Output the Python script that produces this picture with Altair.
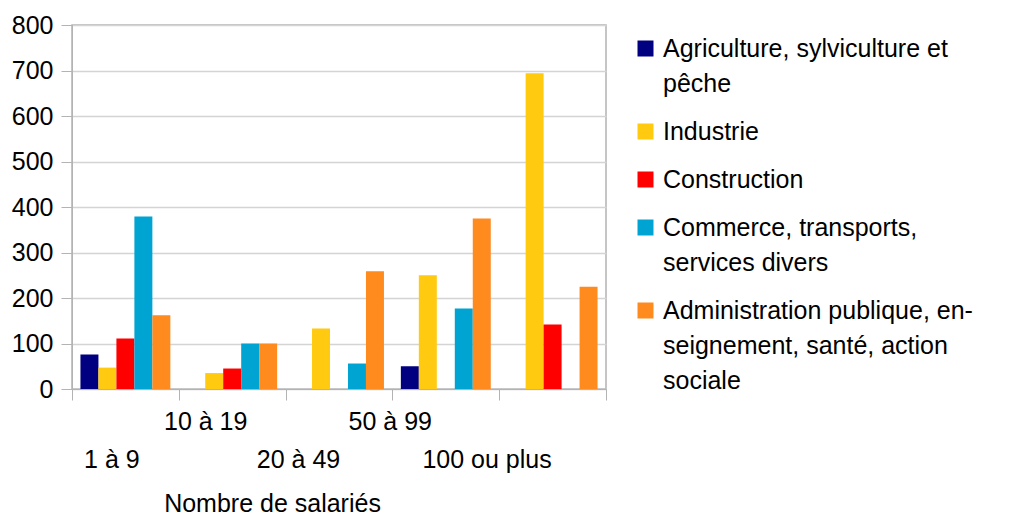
import altair as alt
import pandas as pd

categories = ["1 à 9", "10 à 19", "20 à 49", "50 à 99", "100 ou plus"]
series = [
    "Agriculture, sylviculture et pêche",
    "Industrie",
    "Construction",
    "Commerce, transports, services divers",
    "Administration publique, enseignement, santé, action sociale",
]
legend_lines = [
    ["Agriculture, sylviculture et", "pêche"],
    ["Industrie"],
    ["Construction"],
    ["Commerce, transports,", "services divers"],
    ["Administration publique, en-", "seignement, santé, action", "sociale"],
]
colors = ["#000080", "#FFCA0F", "#FF0000", "#00A4D3", "#FF8A1E"]

agriculture = [76, None, None, 50, None]
industrie = [47, 35, 133, 250, 694]
construction = [111, 45, None, None, 142]
commerce = [379, 100, 56, 177, None]
administration = [162, 100, 259, 375, 225]

values = [agriculture, industrie, construction, commerce, administration]
rows = []
for s, vals in zip(series, values):
    for c, v in zip(categories, vals):
        if v is not None:
            rows.append({"cat": c, "serie": s, "val": v})
df = pd.DataFrame(rows)

def js_list(lst):
    return "[" + ",".join("'" + x + "'" for x in lst) + "]"

label_expr = ""
for s, lines in zip(series, legend_lines):
    label_expr += f"datum.label == '{s}' ? {js_list(lines)} : "
label_expr += "datum.label"

cat_list = js_list(categories)
low_labels = js_list(["1 à 9", "20 à 49", "100 ou plus"])

FONT = "Liberation Sans"
FS = 25

chart = alt.Chart(df).mark_bar().encode(
    x=alt.X(
        "cat:N",
        sort=categories,
        scale=alt.Scale(domain=categories, paddingInner=0, paddingOuter=0),
        axis=alt.Axis(
            title="Nombre de salariés",
            labelAngle=0,
            tickBand="extent",
            tickSize=11,
            tickColor="#b3b3b3",
            domainColor="#b3b3b3",
            labelFont=FONT,
            labelFontSize=FS,
            labelColor="#000000",
            labelBaseline="top",
            labelPadding={
                "condition": {"test": f"indexof({low_labels}, datum.value) >= 0", "value": 47},
                "value": 9,
            },
            labelOffset={"expr": f"[-14,-27,-41,-56,-66][indexof({cat_list}, datum.value)]"},
            titleFont=FONT,
            titleFontSize=FS,
            titleFontWeight="normal",
            titleColor="#000000",
            titleX=200,
            titleY=122,
            titleBaseline="alphabetic",
            titleAlign="center",
            grid=False,
        ),
    ),
    xOffset=alt.XOffset("serie:N", sort=series, scale=alt.Scale(domain=series, paddingInner=0, paddingOuter=0.47)),
    y=alt.Y(
        "val:Q",
        scale=alt.Scale(domain=[0, 800], nice=False),
        axis=alt.Axis(
            title=None,
            values=[0, 100, 200, 300, 400, 500, 600, 700, 800],
            tickSize=11,
            tickColor="#b3b3b3",
            domainColor="#b3b3b3",
            gridColor="#d4d4d4",
            gridWidth=1.5,
            labelFont=FONT,
            labelFontSize=FS,
            labelColor="#000000",
            labelPadding=8,
        ),
    ),
    color=alt.Color(
        "serie:N",
        sort=series,
        scale=alt.Scale(domain=series, range=colors),
        legend=alt.Legend(
            title=None,
            orient="none",
            legendX=561,
            legendY=11,
            symbolType="square",
            symbolSize=256,
            symbolStrokeWidth=0,
            symbolOpacity=1,
            labelFont=FONT,
            labelFontSize=FS,
            labelColor="#000000",
            labelLimit=450,
            labelOffset=5,
            rowPadding=22,
            labelExpr=label_expr,
        ),
    ),
).properties(
    width=534,
    height=364,
    autosize=alt.AutoSizeParams(type="none"),
    padding={"left": 64, "top": 17, "right": 400, "bottom": 129},
).configure(
    style={"guide-label": {"lineHeight": 35}},
).configure_view(
    stroke="#b3b3b3",
    strokeWidth=1.5,
)

chart.save("out.html", embed_options={"renderer": "svg", "actions": False})
